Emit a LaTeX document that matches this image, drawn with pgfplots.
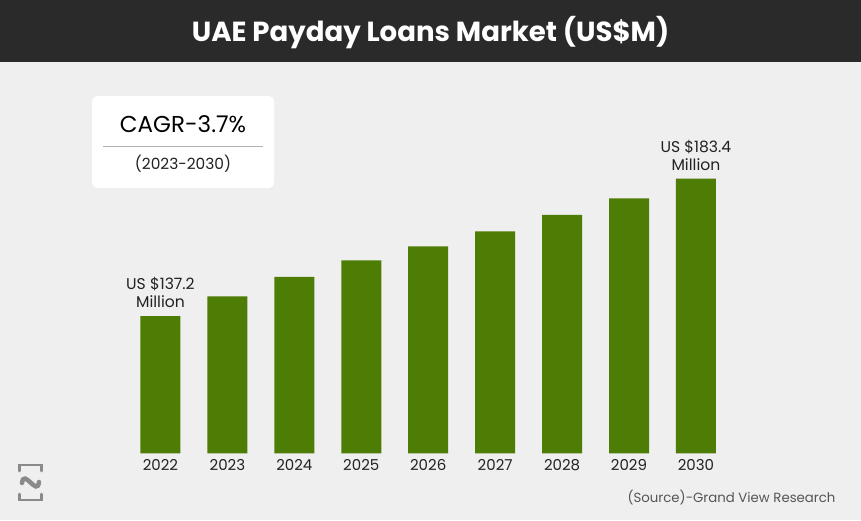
\documentclass[border=0pt]{standalone}
\usepackage{pgfplots}
\pgfplotsset{compat=1.18}
\usepackage{fontspec}
\setmainfont{Poppins}
\definecolor{bg}{HTML}{EFEFEF}
\definecolor{titlebar}{HTML}{2A2A2A}
\definecolor{bargreen}{HTML}{4E7D05}
\definecolor{txt}{HTML}{222222}
\definecolor{srcgray}{HTML}{555555}
\definecolor{logogray}{HTML}{8A8A8A}
\begin{document}
\begin{tikzpicture}[x=1pt,y=1pt]
  % background and title bar
  \fill[bg] (0,0) rectangle (861,520);
  \fill[titlebar] (0,458) rectangle (861,520);
  \node[text=white, font=\fontsize{27.6}{32}\selectfont\bfseries] at (430.5,487) {UAE Payday Loans Market (US\$M)};

  % CAGR box
  \fill[white, rounded corners=5pt] (92,332) rectangle (274,424);
  \draw[gray!60, line width=0.8pt] (103,374) -- (263,374);
  \node[text=black, font=\fontsize{23}{27}\selectfont] at (183,396) {CAGR-3.7\%};
  \node[text=txt, font=\fontsize{15.4}{18}\selectfont] at (183,356) {(2023-2030)};

  \begin{axis}[
    at={(127pt,66.7pt)}, anchor=south west,
    scale only axis, width=602.4pt, height=323.9pt,
    xmin=-0.5, xmax=8.5, ymin=91, ymax=200,
    axis lines=none, clip=false,
    ybar, bar width=40pt,
    xtick=data,
    xticklabels={2022,2023,2024,2025,2026,2027,2028,2029,2030},
  ]
    \addplot[draw=none, fill=bargreen] coordinates {
      (0,137.2) (1,143.8) (2,150.4) (3,155.9) (4,160.6)
      (5,165.7) (6,171.2) (7,176.8) (8,183.4)};
    % year labels under the bars
    \foreach \i/\yr in {0/2022,1/2023,2/2024,3/2025,4/2026,5/2027,6/2028,7/2029,8/2030}{
      \edef\tmp{\noexpand\node[text=txt, font=\noexpand\fontsize{15}{18}\noexpand\selectfont, anchor=north]
        at (axis cs:\i,91) [yshift=-3pt] {\yr};}
      \tmp
    }
    \node[text=txt, align=center, anchor=south, font=\fontsize{15.6}{18}\selectfont]
      at (axis cs:0,137.2) [yshift=5pt] {US \$137.2\\Million};
    \node[text=txt, align=center, anchor=south, font=\fontsize{15.6}{18}\selectfont]
      at (axis cs:8,183.4) [yshift=5pt] {US \$183.4\\Million};
  \end{axis}

  % logo
  \begin{scope}[logogray, line width=2.8pt, line cap=round]
    \draw (19.5,49) -- (19.5,55) -- (41.5,55) -- (41.5,49);
    \draw (19.5,26) -- (19.5,20) -- (41.5,20) -- (41.5,26);
    \draw[line width=4.5pt] (22,37) .. controls (24,52) and (37,23) .. (39,38);
  \end{scope}

  % source
  \node[text=srcgray, anchor=east, font=\fontsize{13.3}{16}\selectfont] at (839,22.5) {(Source)-Grand View Research};
\end{tikzpicture}
\end{document}
